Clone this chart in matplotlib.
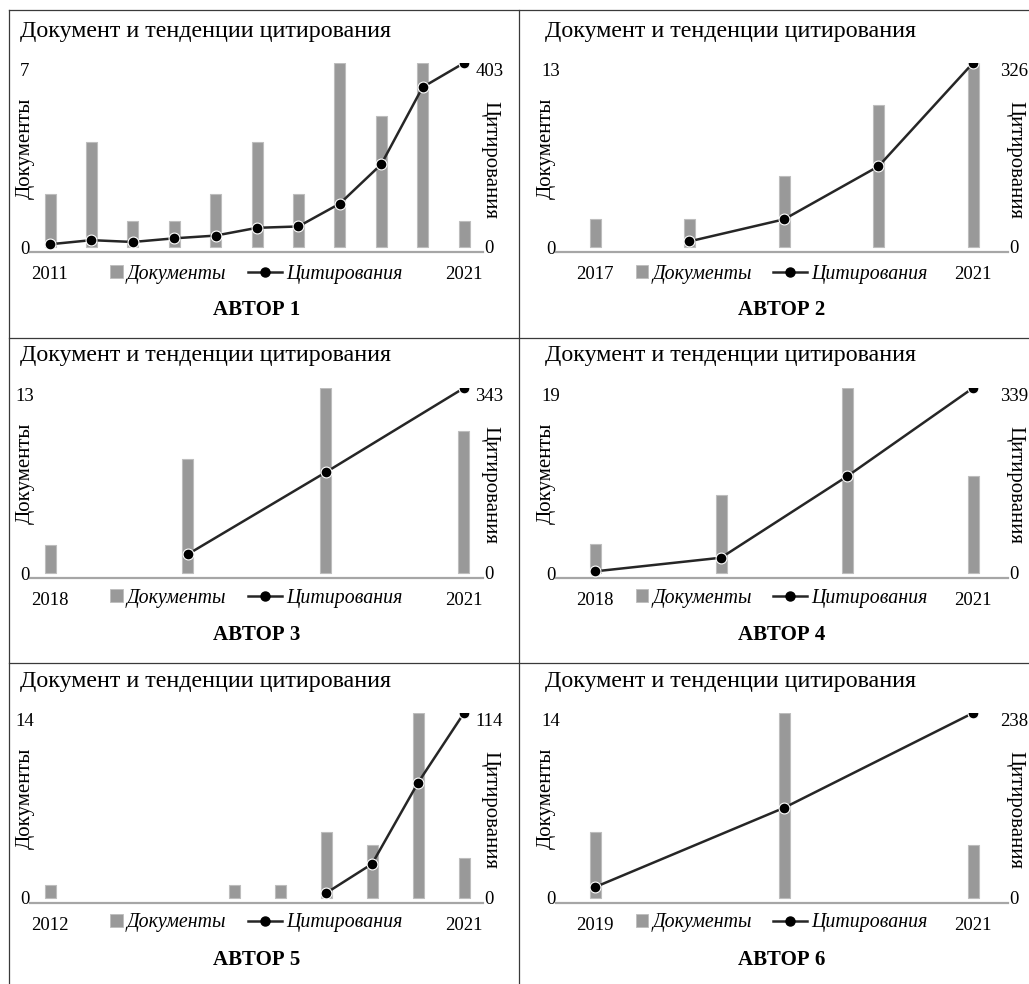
"""Six small 'documents vs citations' panels, one per author."""
import numpy as np
import matplotlib

matplotlib.use("Agg")
import matplotlib.pyplot as plt
from matplotlib.lines import Line2D
from matplotlib.patches import Rectangle
from matplotlib.legend_handler import HandlerPatch

plt.rcParams["font.family"] = ["Liberation Serif", "DejaVu Serif"]

TITLE = "Документ и тенденции цитирования"
DOC_LABEL = "Документы"
CIT_LABEL = "Цитирования"

years_1 = list(range(2011, 2022))
docs_1 = [2, 4, 1, 1, 2, 4, 2, 7, 5, 7, 1]
cites_1 = [6, 15, 11, 19, 25, 42, 45, 95, 181, 350, 403]

years_2 = list(range(2017, 2022))
docs_2 = [2, 2, 5, 10, 13]
cites_2 = [np.nan, 10, 49, 143, 326]

years_3 = list(range(2018, 2022))
docs_3 = [2, 8, 13, 10]
cites_3 = [np.nan, 35, 187, 343]

years_4 = list(range(2018, 2022))
docs_4 = [3, 8, 19, 10]
cites_4 = [3, 28, 177, 339]

years_5 = list(range(2012, 2022))
docs_5 = [1, 0, 0, 0, 1, 1, 5, 4, 14, 3]
cites_5 = [np.nan] * 6 + [3, 21, 71, 114]

years_6 = list(range(2019, 2022))
docs_6 = [5, 14, 4]
cites_6 = [14, 116, 238]

authors = ["АВТОР 1", "АВТОР 2", "АВТОР 3", "АВТОР 4", "АВТОР 5", "АВТОР 6"]
panels = [
    (years_1, docs_1, cites_1),
    (years_2, docs_2, cites_2),
    (years_3, docs_3, cites_3),
    (years_4, docs_4, cites_4),
    (years_5, docs_5, cites_5),
    (years_6, docs_6, cites_6),
]

W, H = 1029, 984
BAR = "#999999"
LINE = "#262626"

# pixel geometry of the two columns / three rows
COLS = [
    dict(L=30, R=483, F=50, La=464, tx=20),
    dict(L=556, R=1008, F=595, La=973, tx=545),
]
ROWS = [
    dict(B=252, T=63, ty=31, xl=274, au=310),
    dict(B=578, T=388, ty=356, xl=598, au=635),
    dict(B=903, T=713, ty=681, xl=923, au=960),
]


def fx(x):
    return x / W


def fy(y):
    return 1 - y / H


def small_square(legend, orig_handle, xdescent, ydescent, width, height, fontsize):
    s = 0.62 * fontsize
    return Rectangle((width - xdescent - s, -ydescent + (height - s) / 2), s, s)


fig = plt.figure(figsize=(W / 100, H / 100), dpi=100)

for i, (years, docs, cites) in enumerate(panels):
    c = COLS[i % 2]
    r = ROWS[i // 2]
    n = len(years)
    ax = fig.add_axes([fx(c["L"]), fy(r["B"]), fx(c["R"] - c["L"]), (r["B"] - r["T"]) / H])
    ax2 = ax.twinx()

    x = np.arange(n)
    span = max(n - 1, 1)
    px_per = (c["La"] - c["F"]) / span
    ax.set_xlim(-(c["F"] - c["L"]) / px_per, (n - 1) + (c["R"] - c["La"]) / px_per)

    dmax = max(docs)
    cmax = np.nanmax(cites)
    frac = 5 / (r["B"] - 5 - r["T"])
    ax.set_ylim(-frac * dmax, dmax)
    ax2.set_ylim(-frac * cmax, cmax)

    bars = ax.bar(x, docs, width=11 / px_per, color=BAR, edgecolor="#bdbdbd", linewidth=0.8)
    for b in bars:
        if b.get_height() == 0:
            b.set_visible(False)
    ax2.plot(x, cites, color=LINE, lw=1.8, marker="o", ms=7.8, mfc="black",
             mec="white", mew=0.8, zorder=3)

    for a in (ax, ax2):
        for s in a.spines.values():
            s.set_visible(False)
    ax.spines["bottom"].set_visible(True)
    ax.spines["bottom"].set_color("#a6a6a6")
    ax.spines["bottom"].set_linewidth(1.6)

    ax.set_xticks([0, n - 1], [str(years[0]), str(years[-1])])
    ax.tick_params(axis="x", length=0, pad=10, labelsize=13.5)
    ax.set_yticks([0, dmax], ["0", f"{dmax:g}"])
    ax.tick_params(axis="y", length=0, pad=4, labelsize=13.5)
    ax2.set_yticks([0, cmax], ["0", f"{cmax:g}"])
    ax2.tick_params(axis="y", length=0, pad=4.5, labelsize=13.5)
    for t in ax.get_yticklabels() + ax2.get_yticklabels():
        t.set_horizontalalignment("center")
    ax.get_yticklabels()[-1].set_verticalalignment("top")
    ax2.get_yticklabels()[-1].set_verticalalignment("top")
    ax.set_ylabel(DOC_LABEL, fontsize=15, va="center")
    ax.yaxis.set_label_coords(-0.011 if i % 2 == 0 else -0.022, 0.55)
    ax2.set_ylabel(CIT_LABEL, fontsize=15, rotation=-90, va="center")
    ax2.yaxis.set_label_coords(1.015, 0.487)

    fig.text(fx(c["tx"]), fy(r["ty"]), TITLE, fontsize=17.3, ha="left", va="center")
    mid = (c["L"] + c["R"]) / 2
    fig.text(fx(mid), fy(r["au"]), authors[i], fontsize=15, fontweight="bold",
             ha="center", va="center")

    handles = [
        Rectangle((0, 0), 1, 1, facecolor=BAR, edgecolor="#bdbdbd", linewidth=0.6),
        Line2D([], [], color=LINE, lw=1.8, marker="o", ms=6.5, mfc="black", mec="black"),
    ]
    fig.legend(handles, [DOC_LABEL, CIT_LABEL], loc="center",
               bbox_to_anchor=(fx(mid - 11), fy(r["xl"])), bbox_transform=fig.transFigure,
               ncol=2, frameon=False, handlelength=1.7, handletextpad=0.2,
               columnspacing=1.1, borderpad=0, borderaxespad=0,
               prop=dict(family="Liberation Serif", style="italic", size=14.3),
               handler_map={Rectangle: HandlerPatch(patch_func=small_square)})

# panel frame lines
frame = dict(color="#3a3a3a", lw=0.9, transform=fig.transFigure)
fig.add_artist(Line2D([fx(9), 1], [fy(10), fy(10)], **frame))
fig.add_artist(Line2D([fx(9), fx(9)], [fy(10), 0], **frame))
fig.add_artist(Line2D([fx(519), fx(519)], [fy(10), 0], **frame))
for yy in (338, 663):
    fig.add_artist(Line2D([fx(9), 1], [fy(yy), fy(yy)], **frame))

fig.savefig("out.png", dpi=100, facecolor="white")
